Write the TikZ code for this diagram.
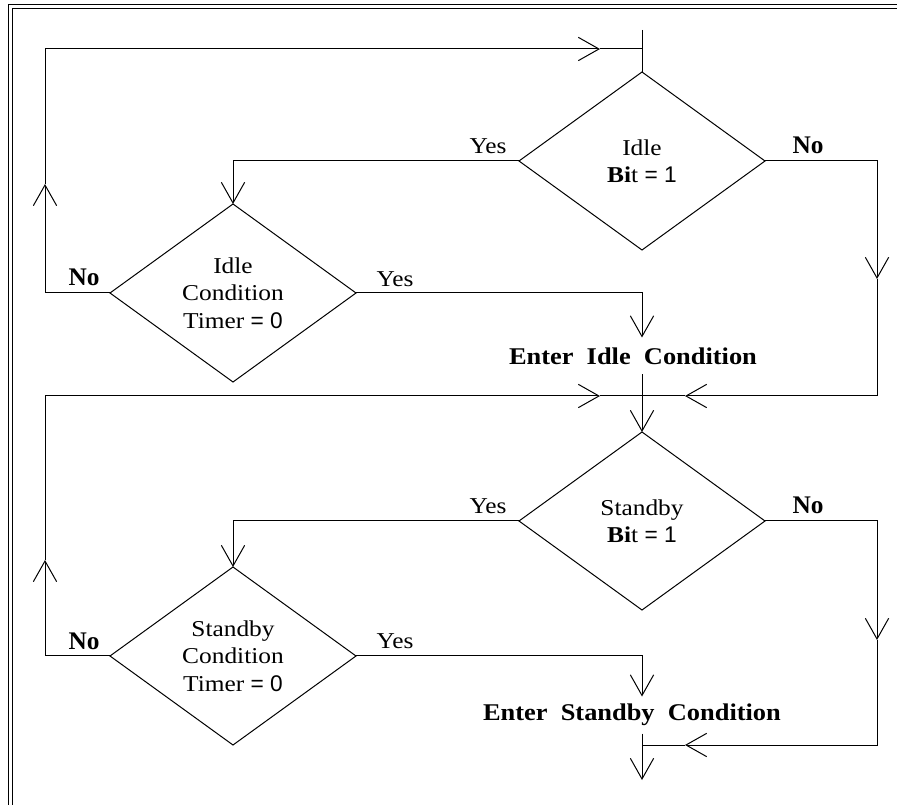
\documentclass[tikz,border=0pt]{standalone}
\usepackage{fontspec}
\setmainfont{Liberation Serif}
\setsansfont{Liberation Sans}
\newfontfamily\wideserif[FakeStretch=1.12]{Liberation Serif}
\newfontfamily\enterserif[FakeStretch=1.1,WordSpace=2]{Liberation Serif}
\usetikzlibrary{shapes.geometric,arrows.meta}

\begin{document}
\begin{tikzpicture}[x=0.75pt, y=-0.75pt, line width=0.75pt,
    dia/.style={draw, diamond, aspect=1.38, inner sep=0pt, outer sep=0pt,
        minimum width=184.5pt, minimum height=133.5pt, align=center,
        font=\wideserif\fontsize{17}{20.6}\selectfont},
    flow/.style={-{Straight Barb[length=15.5pt,width=17.5pt]}},
    lblyes/.style={inner sep=0pt, font=\wideserif\fontsize{17}{20}\selectfont},
    lblno/.style={inner sep=0pt, font=\bfseries\fontsize{19}{22}\selectfont},
    entertext/.style={inner sep=0pt, minimum height=27pt,
        font=\enterserif\bfseries\fontsize{18}{22}\selectfont}]
\useasboundingbox (0,0) rectangle (897,805);

% frame
\draw (8,805) -- (8,5) -- (897,5);
\draw (12,805) -- (12,9) -- (897,9);

% decisions
\node[dia] (idlebit) at (642,161) {Idle\\\textbf{Bi}t \textsf{= 1}};
\node[dia] (idletimer) at (233,293) {Idle\\Condition\\Timer \textsf{= 0}};
\node[dia] (sbybit) at (642,521) {Standby\\\textbf{Bi}t \textsf{= 1}};
\node[dia] (sbytimer) at (233,656) {Standby\\Condition\\Timer \textsf{= 0}};

\node[entertext] (idleenter) at (633,356) {Enter Idle Condition};
\node[entertext] (sbyenter) at (632,715) {Enter Standby Condition};

\coordinate (top) at (642,30);
\coordinate (j1) at (642,396);
\coordinate (j2) at (642,745);
\coordinate (out) at (642,780);

% idle part
\draw (top) -- (idlebit.north);
\draw[flow] (idlebit.west) -| (idletimer.north);
\draw[flow] (idlebit.east) -| (877,279);
\draw[flow] (877,279) |- (685,396);
\draw (685,396) -- (j1);
\draw[flow] (idletimer.east) -| (idlebit.south |- idleenter.north);
\draw[flow] (idletimer.west) -| (45,184);
\draw[flow] (45,184) |- (600,49);
\draw (600,49) -- (642,49);
\draw[flow] (j1 |- idleenter.south) -- (sbybit.north);

% standby part
\draw[flow] (sbybit.west) -| (sbytimer.north);
\draw[flow] (sbybit.east) -| (877,640);
\draw[flow] (877,640) |- (685,745);
\draw (685,745) -- (j2);
\draw[flow] (sbytimer.east) -| (sbybit.south |- sbyenter.north);
\draw[flow] (sbytimer.west) -| (45,560);
\draw (45,560) -- (45,396);
\draw[flow] (45,396) -- (600,396);
\draw (600,396) -- (j1);
\draw[flow] (j2 |- sbyenter.south) -- (out);

% labels
\node[lblyes] (yes1) at (488,146) {Yes};
\node[lblno] (no1) at (808,145) {No};
\node[lblyes] (yes2) at (395,279) {Yes};
\node[lblno] (no2) at (84,277) {No};
\node[lblyes] (yes3) at (488,506) {Yes};
\node[lblno] (no3) at (808,505) {No};
\node[lblyes] (yes4) at (395,641) {Yes};
\node[lblno] (no4) at (84,641) {No};
\end{tikzpicture}
\end{document}
